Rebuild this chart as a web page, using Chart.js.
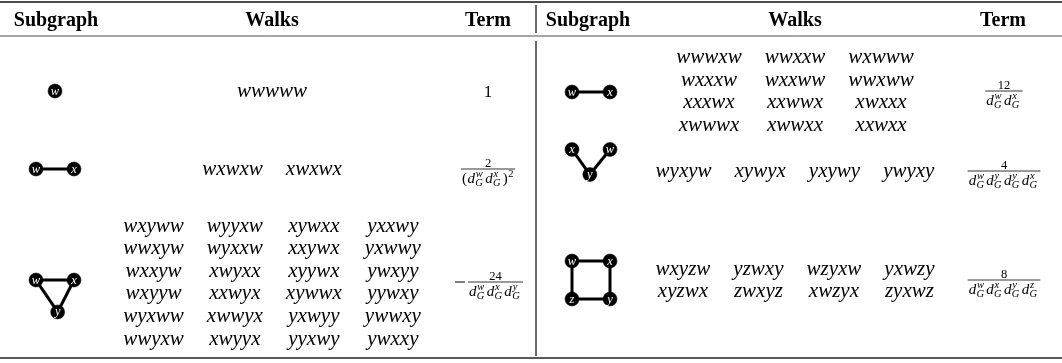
<!DOCTYPE html>
<html>
<head>
<meta charset="utf-8">
<script src="https://cdn.jsdelivr.net/npm/chart.js"></script>
<style>
  body { margin: 0; background: #fff; }
  canvas { display: block; }
</style>
</head>
<body>
<canvas id="table" width="1062" height="363"></canvas>
<script>
'use strict';

// ---- table content ----
const headers = ['Subgraph', 'Walks', 'Term'];

// walks per row: list of lines, each line a list of words
const leftWalks = [
  [['wwwww']],
  [['wxwxw', 'xwxwx']],
  [
    ['wxyww', 'wyyxw', 'xywxx', 'yxxwy'],
    ['wwxyw', 'wyxxw', 'xxywx', 'yxwwy'],
    ['wxxyw', 'xwyxx', 'xyywx', 'ywxyy'],
    ['wxyyw', 'xxwyx', 'xywwx', 'yywxy'],
    ['wyxww', 'xwwyx', 'yxwyy', 'ywwxy'],
    ['wwyxw', 'xwyyx', 'yyxwy', 'ywxxy'],
  ],
];
const rightWalks = [
  [
    ['wwwxw', 'wwxxw', 'wxwww'],
    ['wxxxw', 'wxxww', 'wwxww'],
    ['xxxwx', 'xxwwx', 'xwxxx'],
    ['xwwwx', 'xwwxx', 'xxwxx'],
  ],
  [['wyxyw', 'xywyx', 'yxywy', 'ywyxy']],
  [
    ['wxyzw', 'yzwxy', 'wzyxw', 'yxwzy'],
    ['xyzwx', 'zwxyz', 'xwzyx', 'zyxwz'],
  ],
];

// terms: numerator, degree letters in the denominator
const leftTerms = [
  { num: '1' },
  { num: '2', den: ['w', 'x'], power: '2' },
  { num: '24', den: ['w', 'x', 'y'], neg: true },
];
const rightTerms = [
  { num: '12', den: ['w', 'x'] },
  { num: '4', den: ['w', 'y', 'y', 'x'] },
  { num: '8', den: ['w', 'x', 'y', 'z'] },
];

// subgraphs: node label + shape position (in node units), edges by index
const leftGraphs = [
  { nodes: [['w', 0, 0]], edges: [] },
  { nodes: [['w', -0.5, 0], ['x', 0.5, 0]], edges: [[0, 1]] },
  {
    nodes: [['w', -0.5, -0.42], ['x', 0.5, -0.42], ['y', 0.07, 0.42]],
    edges: [[0, 1], [0, 2], [1, 2]],
  },
];
const rightGraphs = [
  { nodes: [['w', -0.5, 0], ['x', 0.5, 0]], edges: [[0, 1]] },
  {
    nodes: [['x', -0.5, -0.33], ['w', 0.5, -0.33], ['y', -0.03, 0.33]],
    edges: [[0, 2], [1, 2]],
  },
  {
    nodes: [['w', -0.5, -0.5], ['x', 0.5, -0.5], ['y', 0.5, 0.5], ['z', -0.5, 0.5]],
    edges: [[0, 1], [1, 2], [2, 3], [3, 0]],
  },
];

// ---- layout ----
const layout = {
  left: {
    headerX: [56, 272, 488],
    graphX: 55, walksX: 272, termX: 488,
    rowY: [92, 170, 283], graphY: [91, 169, 296],
  },
  right: {
    headerX: [588, 795, 1003],
    graphX: 591, walksX: 795, termX: 1004,
    rowY: [92, 172, 281], graphY: [92, 162, 280],
  },
  headerBaseline: 26,
  lineGap: 22.6,
  colGap: 23,
  unit: 38,
  nodeR: 7,
};

const SERIF = '"Liberation Serif", "Times New Roman", serif';
const sides = [
  { walks: leftWalks, terms: leftTerms, graphs: leftGraphs, lay: layout.left },
  { walks: rightWalks, terms: rightTerms, graphs: rightGraphs, lay: layout.right },
];

// ---- datasets (rules, edges, nodes) ----
const datasets = [];

function segment(x1, y1, x2, y2, width, color) {
  datasets.push({
    type: 'scatter',
    data: [{ x: x1, y: y1 }, { x: x2, y: y2 }],
    showLine: true,
    borderColor: color,
    borderWidth: width,
    pointRadius: 0,
    order: 2,
  });
}

segment(0, 2, 1062, 2, 1.4, '#111');
segment(0, 36, 1062, 36, 0.8, '#222');
segment(0, 358, 1062, 358, 1.6, '#222');
segment(536, 5, 536, 33, 1, '#555');
segment(536, 41, 536, 356, 1, '#555');

const nodePoints = [];
sides.forEach(({ graphs, lay }) => {
  graphs.forEach((g, r) => {
    const pos = g.nodes.map(([label, gx, gy]) => ({
      x: lay.graphX + gx * layout.unit,
      y: lay.graphY[r] + gy * layout.unit,
      label,
    }));
    g.edges.forEach(([a, b]) => segment(pos[a].x, pos[a].y, pos[b].x, pos[b].y, 3, '#000'));
    nodePoints.push(...pos);
  });
});

datasets.push({
  type: 'scatter',
  data: nodePoints,
  pointRadius: layout.nodeR,
  pointHoverRadius: layout.nodeR,
  backgroundColor: '#000',
  borderColor: '#000',
  borderWidth: 0.5,
  order: 0,
});

// ---- text drawing ----
function drawTerm(ctx, term, cx, barY) {
  ctx.fillStyle = '#000';
  ctx.textAlign = 'left';
  ctx.textBaseline = 'alphabetic';
  if (!term.den) {
    ctx.font = '17px ' + SERIF;
    const w = ctx.measureText(term.num).width;
    ctx.fillText(term.num, cx - w / 2, barY + 6);
    return;
  }
  const dFont = 'italic 15px ' + SERIF;
  const sFont = 'italic 10.5px ' + SERIF;
  const pFont = '15px ' + SERIF;
  const rFont = '10.5px ' + SERIF;
  // measure denominator
  const parts = [];
  let width = 0;
  if (term.power) {
    ctx.font = pFont;
    const w = ctx.measureText('(').width;
    parts.push({ kind: 'paren', text: '(', x: width });
    width += w + 0.5;
  }
  term.den.forEach(letter => {
    ctx.font = dFont;
    const wd = ctx.measureText('d').width;
    ctx.font = sFont;
    const ws = Math.max(ctx.measureText(letter).width, ctx.measureText('G').width);
    parts.push({ kind: 'd', letter, x: width, wd });
    width += wd + 0.8 + ws + 1.8;
  });
  if (term.power) {
    ctx.font = pFont;
    parts.push({ kind: 'paren', text: ')', x: width });
    width += ctx.measureText(')').width;
    ctx.font = rFont;
    parts.push({ kind: 'pow', text: term.power, x: width + 0.5 });
    width += ctx.measureText(term.power).width + 1;
  }
  const minusW = term.neg ? 15 : 0;
  const left = cx - (width + minusW) / 2 + minusW;
  const mid = left + width / 2;
  parts.forEach(p => {
    if (p.kind === 'paren') {
      ctx.font = pFont;
      ctx.fillText(p.text, left + p.x, barY + 13.5);
    } else if (p.kind === 'pow') {
      ctx.font = rFont;
      ctx.fillText(p.text, left + p.x, barY + 7.5);
    } else {
      ctx.font = dFont;
      ctx.fillText('d', left + p.x, barY + 13.5);
      ctx.font = sFont;
      ctx.fillText(p.letter, left + p.x + p.wd + 0.8, barY + 8);
      ctx.fillText('G', left + p.x + p.wd + 0.3, barY + 17);
    }
  });
  // bar
  ctx.fillRect(left - 1, barY - 0.4, width + 2, 0.8);
  // numerator
  ctx.font = '12.5px ' + SERIF;
  const wn = ctx.measureText(term.num).width;
  ctx.fillText(term.num, mid - wn / 2, barY - 2.5);
  if (term.neg) {
    ctx.fillRect(left - 14, barY - 0.5, 10, 1);
  }
}

const tablePlugin = {
  id: 'tableText',
  afterDatasetsDraw(chart) {
    const ctx = chart.ctx;
    const px = v => chart.scales.x.getPixelForValue(v);
    const py = v => chart.scales.y.getPixelForValue(v);
    ctx.save();
    ctx.fillStyle = '#000';
    ctx.textBaseline = 'alphabetic';

    sides.forEach(({ walks, terms, lay }) => {
      // headers
      ctx.font = 'bold 20px ' + SERIF;
      ctx.textAlign = 'center';
      headers.forEach((h, i) => ctx.fillText(h, px(lay.headerX[i]), py(layout.headerBaseline)));

      // walks
      ctx.font = 'italic 21px ' + SERIF;
      walks.forEach((lines, r) => {
        const ncol = Math.max(...lines.map(l => l.length));
        const colW = [];
        for (let j = 0; j < ncol; j++) {
          colW.push(Math.max(...lines.map(l => (l[j] ? ctx.measureText(l[j]).width : 0))));
        }
        const total = colW.reduce((a, b) => a + b, 0) + layout.colGap * (ncol - 1);
        lines.forEach((line, i) => {
          const y = lay.rowY[r] + (i - (lines.length - 1) / 2) * layout.lineGap;
          let x = lay.walksX - total / 2;
          line.forEach((word, j) => {
            ctx.fillText(word, px(x + colW[j] / 2), py(y + 5));
            x += colW[j] + layout.colGap;
          });
        });
      });

      // terms
      terms.forEach((t, r) => {
        ctx.save();
        drawTerm(ctx, t, px(lay.termX), py(lay.rowY[r] - 1));
        ctx.restore();
      });
    });

    // node labels
    ctx.fillStyle = '#fff';
    ctx.font = 'italic 12.5px ' + SERIF;
    ctx.textAlign = 'center';
    nodePoints.forEach(p => ctx.fillText(p.label, px(p.x), py(p.y + 3.5)));
    ctx.restore();
  },
};

new Chart(document.getElementById('table'), {
  type: 'scatter',
  data: { datasets },
  options: {
    responsive: false,
    animation: false,
    layout: { padding: 0, autoPadding: false },
    plugins: { legend: { display: false }, tooltip: { enabled: false } },
    events: [],
    scales: {
      x: { type: 'linear', min: 0, max: 1062, display: false },
      y: { type: 'linear', min: 0, max: 363, reverse: true, display: false },
    },
  },
  plugins: [tablePlugin],
});
</script>
</body>
</html>
